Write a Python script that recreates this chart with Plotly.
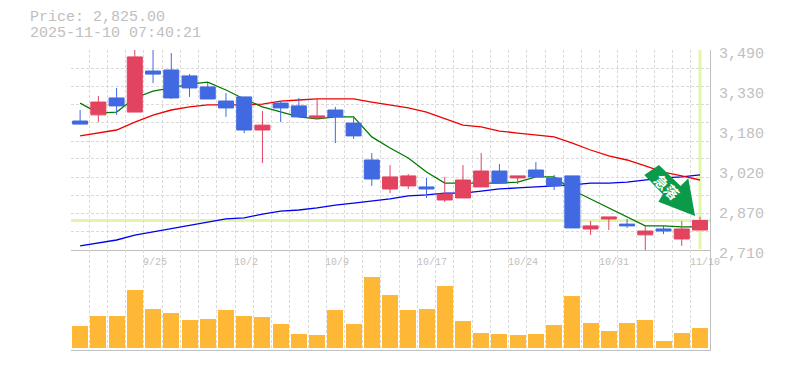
import plotly.graph_objects as go

dates = ["9/18","9/19","9/22","9/24","9/25","9/26","9/29","9/30","10/1","10/2","10/3","10/6","10/7","10/8","10/9","10/10","10/14","10/15","10/16","10/17","10/20","10/21","10/22","10/23","10/24","10/27","10/28","10/29","10/30","10/31","11/4","11/5","11/6","11/7","11/10"]
opens = [3213,3237,3303,3248,3408,3412,3389,3346,3291,3307,3178,3283,3272,3225,3256,3205,3061,2948,2960,2956,2905,2913,2956,3018,2991,3022,2991,2999,2792,2831,2811,2769,2792,2753,2788]
highs = [3256,3311,3342,3490,3490,3478,3396,3361,3322,3307,3252,3291,3303,3299,3268,3229,3088,3041,3006,2991,2995,3041,3088,3045,2999,3053,3003,2999,2823,2839,2831,2804,2804,2823,2839]
lows = [3201,3209,3237,3248,3361,3299,3307,3299,3229,3166,3049,3209,3229,3225,3127,3143,2960,2932,2948,2913,2897,2913,2956,2971,2967,2995,2944,2796,2769,2788,2796,2710,2772,2726,2788]
closes = [3201,3287,3272,3463,3396,3303,3342,3299,3264,3178,3197,3264,3229,3233,3229,3155,2987,2995,2999,2948,2928,2983,3018,2971,2999,2995,2960,2796,2804,2839,2804,2784,2784,2792,2825]
ma_short = [3283,3244,3248,3303,3330,3342,3357,3365,3334,3299,3268,3248,3229,3221,3229,3229,3151,3108,3069,3014,2971,2971,2971,2971,2975,2995,2995,2944,2909,2874,2839,2804,2804,2800,2800]
ma_mid = [3155,3166,3178,3209,3236,3256,3268,3276,3276,3276,3279,3291,3295,3299,3299,3299,3287,3276,3264,3248,3221,3197,3190,3174,3166,3158,3151,3127,3100,3077,3061,3038,3014,2999,2983]
ma_long = [2726,2737,2749,2768,2780,2792,2807,2819,2831,2835,2850,2862,2866,2874,2885,2893,2901,2909,2921,2925,2932,2932,2940,2948,2952,2956,2960,2964,2971,2971,2975,2983,2991,2995,3003]
volumes = [65,95,95,173,116,104,83,86,113,95,92,71,41,38,113,71,212,158,113,116,185,80,44,41,38,41,68,155,74,50,74,83,20,44,59]
price_last = 2825
label_idx = [4,9,14,19,24,29,34]
price_ticks = [3490,3334,3178,3022,2866,2710]
price_text = ["3,490","3,330","3,180","3,020","2,870","2,710"]
price_grid = [3490,3419,3348,3277,3206,3135,3065,2994,2923,2852,2781,2710]
header = ["Price: 2,825.00","2025-11-10 07:40:21"]
arrow_x = [31.75,30.95,31.96,31.72,33.73,33.36,32.94]
arrow_y = [3041.5,3002.5,2927,2898,2842.6,2989.6,2959.6]

GRID="#dadada"; AXIS="#bfbfbf"; TXT="#c0c0c0"; CROSS="#e2f5aa"; MONO="Liberation Mono"
x = list(range(len(dates)))
xrange_ = [-0.5,34.55]
bounds = [i-0.5 for i in range(36)]
yrange = [2710,3490]

fig = go.Figure()
for vals,col,w in ((ma_long,"#0000ee",1.3),(ma_mid,"#ee0000",1.3),(ma_short,"#007a00",1.3)):
    fig.add_trace(go.Scatter(x=x,y=vals,mode="lines",line=dict(color=col,width=w),showlegend=False,hoverinfo="skip",xaxis="x",yaxis="y"))
fig.add_trace(go.Candlestick(x=x,open=opens,high=highs,low=lows,close=closes,whiskerwidth=0,
    increasing=dict(line=dict(color="#e2435f",width=1),fillcolor="#e2435f"),
    decreasing=dict(line=dict(color="#4169e1",width=1),fillcolor="#4169e1"),
    showlegend=False,hoverinfo="skip",xaxis="x3",yaxis="y3"))
fig.add_trace(go.Bar(x=x,y=volumes,marker=dict(color="#ffb835",line=dict(width=0)),width=0.878,showlegend=False,hoverinfo="skip",xaxis="x2",yaxis="y2"))

minor_x = dict(tickmode="array",tickvals=bounds,showgrid=True,gridcolor=GRID,griddash="3px,2px",gridwidth=1,ticks="")
fig.update_layout(
    width=785,height=370,autosize=False,margin=dict(l=63,r=83,t=42,b=28),
    paper_bgcolor="white",plot_bgcolor="white",boxgap=0.177,boxgroupgap=0,bargap=0,
    xaxis=dict(domain=[0,1],range=xrange_,anchor="y",tickmode="array",tickvals=[],showgrid=False,minor=minor_x,
               showline=True,linecolor=AXIS,linewidth=1,zeroline=False,rangeslider=dict(visible=False)),
    xaxis2=dict(domain=[0,1],range=xrange_,anchor="y2",tickmode="array",tickvals=[],showgrid=False,minor=minor_x,
               showline=True,linecolor=AXIS,linewidth=1,zeroline=False),
    xaxis3=dict(range=xrange_,overlaying="x",anchor="y3",visible=False,rangeslider=dict(visible=False)),
    yaxis=dict(domain=[1/3,1],range=yrange,anchor="x",side="right",tickmode="array",tickvals=price_ticks,ticktext=price_text,
               ticklabelstandoff=5,ticklabelshift=3,showgrid=False,zeroline=False,showline=True,linecolor=AXIS,linewidth=1,
               tickfont=dict(family=MONO,size=15,color=TXT),
               minor=dict(tickmode="array",tickvals=price_grid,showgrid=True,gridcolor=GRID,griddash="3px,2px",gridwidth=1,ticks="")),
    yaxis2=dict(domain=[0,1/3],range=[-7,293],anchor="x2",side="right",showticklabels=False,showgrid=False,zeroline=False,
                showline=True,linecolor=AXIS,linewidth=1,ticks=""),
    yaxis3=dict(domain=[1/3,1],range=yrange,overlaying="y",anchor="x3",visible=False),
)
fig.add_shape(type="line",x0=xrange_[0],x1=xrange_[1],y0=price_last,y1=price_last,xref="x",yref="y",layer="below",line=dict(color=CROSS,width=3))
fig.add_shape(type="line",x0=34,x1=34,y0=3490,y1=2714,xref="x",yref="y",layer="below",line=dict(color=CROSS,width=3))
path = "M "+" L ".join(f"{a} {b}" for a,b in zip(arrow_x,arrow_y))+" Z"
fig.add_shape(type="path",path=path,xref="x",yref="y",layer="above",fillcolor="#0a9a4a",line=dict(width=0))
fig.add_annotation(x=32.2,y=2956,xref="x",yref="y",text="<b>急落</b>",textangle=45,showarrow=False,font=dict(family="Noto Sans CJK JP",size=14,color="white"))
for i in label_idx:
    fig.add_annotation(x=i,y=(350-262)/300,xref="x",yref="paper",text=dates[i],xanchor="left",yanchor="middle",xshift=-12,showarrow=False,font=dict(family=MONO,size=10,color=TXT))
for t,py in zip(header,(18,33)):
    fig.add_annotation(x=-42/639,y=(350-py)/300,xref="paper",yref="paper",text=t,xanchor="left",yanchor="middle",borderpad=0,showarrow=False,font=dict(family=MONO,size=15,color=TXT))
fig.write_html("out.html")
